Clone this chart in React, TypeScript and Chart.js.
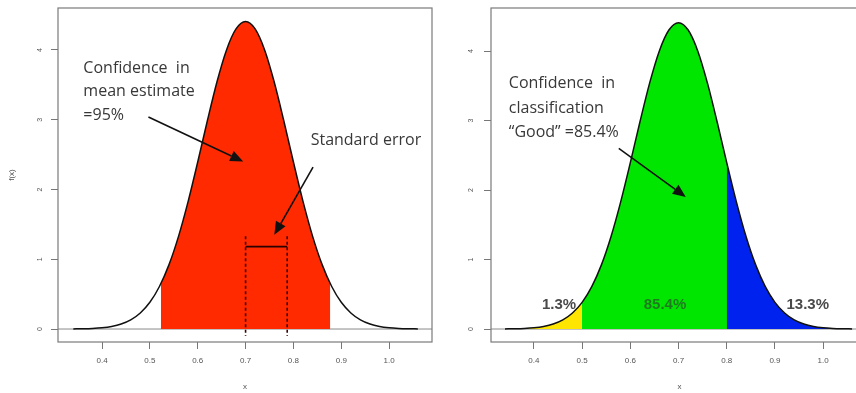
import { useEffect, useRef } from "react";
import { Chart, registerables } from "chart.js";

Chart.register(...registerables);

// ---- data ----
const xValues = [
  0.34, 0.36, 0.38, 0.4, 0.42, 0.44, 0.46, 0.48, 0.5, 0.52, 0.54, 0.56, 0.58,
  0.6, 0.62, 0.64, 0.66, 0.68, 0.7, 0.72, 0.74, 0.76, 0.78, 0.8, 0.82, 0.84,
  0.86, 0.88, 0.9, 0.92, 0.94, 0.96, 0.98, 1.0, 1.02, 1.04, 1.06,
];
const density = [
  0.0016, 0.0038, 0.0085, 0.0181, 0.0368, 0.0711, 0.131, 0.23, 0.383, 0.61,
  0.923, 1.332, 1.83, 2.394, 2.982, 3.538, 3.998, 4.302, 4.408, 4.302, 3.998,
  3.538, 2.982, 2.394, 1.83, 1.332, 0.923, 0.61, 0.383, 0.23, 0.131, 0.0711,
  0.0368, 0.0181, 0.0085, 0.0038, 0.0016,
];
const xTicks = [0.4, 0.5, 0.6, 0.7, 0.8, 0.9, 1.0];
const yTicks = [0, 1, 2, 3, 4];

// left panel: 95% interval and standard error
const ciLow = 0.523;
const ciHigh = 0.877;
const ciEdgeDensity = 0.65;
const seMean = 0.7;
const seUpper = 0.787;
const seBarLevel = 1.18;
const seDashTop = 1.33;

// right panel: classification cut-offs and shares
const cutLow = 0.5;
const cutHigh = 0.8;
const shareLabels = ["1.3%", "85.4%", "13.3%"];

const pts = (lo: number, hi: number) =>
  xValues
    .map((x, i) => ({ x, y: density[i] }))
    .filter((p) => p.x >= lo - 1e-9 && p.x <= hi + 1e-9);

type Txt = { t: string; x: number; y: number; font: string; color: string; align?: CanvasTextAlign };
type Arrow = { x1: number; y1: number; x2: number; y2: number };

function makeDeco(opts: {
  texts: Txt[];
  arrows: Arrow[];
  yLabelX: number;
  extra?: (chart: any) => void;
}) {
  return {
    id: "deco",
    beforeDatasetsDraw(chart: any) {
      const { ctx, chartArea, scales } = chart;
      const y0 = scales.y.getPixelForValue(0);
      ctx.save();
      ctx.strokeStyle = "#8a8a8a";
      ctx.lineWidth = 1;
      ctx.beginPath();
      ctx.moveTo(chartArea.left, y0);
      ctx.lineTo(chartArea.right, y0);
      ctx.stroke();
      ctx.restore();
    },
    afterDraw(chart: any) {
      const { ctx, chartArea, scales } = chart;
      const xs = scales.x;
      const ys = scales.y;
      ctx.save();
      // box
      ctx.strokeStyle = "#7a7a7a";
      ctx.lineWidth = 1.2;
      ctx.strokeRect(
        chartArea.left,
        chartArea.top,
        chartArea.right - chartArea.left,
        chartArea.bottom - chartArea.top
      );
      // y tick labels (rotated like R)
      ctx.fillStyle = "#555";
      ctx.font = "7px 'Liberation Sans'";
      ctx.textAlign = "center";
      ctx.textBaseline = "middle";
      for (const v of yTicks) {
        ctx.save();
        ctx.translate(ys.left + opts.yLabelX, ys.getPixelForValue(v));
        ctx.rotate(-Math.PI / 2);
        ctx.fillText(String(v), 0, 0);
        ctx.restore();
      }
      if (opts.extra) opts.extra(chart);
      // arrows
      for (const a of opts.arrows) {
        const x1 = xs.getPixelForValue(a.x1);
        const y1 = ys.getPixelForValue(a.y1);
        const x2 = xs.getPixelForValue(a.x2);
        const y2 = ys.getPixelForValue(a.y2);
        const ang = Math.atan2(y2 - y1, x2 - x1);
        const hl = 13;
        const hw = 5.5;
        const bx = x2 - hl * Math.cos(ang);
        const by = y2 - hl * Math.sin(ang);
        ctx.strokeStyle = "#111";
        ctx.lineWidth = 1.6;
        ctx.beginPath();
        ctx.moveTo(x1, y1);
        ctx.lineTo(bx, by);
        ctx.stroke();
        ctx.fillStyle = "#111";
        ctx.beginPath();
        ctx.moveTo(x2, y2);
        ctx.lineTo(bx + hw * Math.sin(ang), by - hw * Math.cos(ang));
        ctx.lineTo(bx - hw * Math.sin(ang), by + hw * Math.cos(ang));
        ctx.closePath();
        ctx.fill();
      }
      // texts
      ctx.textBaseline = "middle";
      for (const t of opts.texts) {
        ctx.font = t.font;
        ctx.fillStyle = t.color;
        ctx.textAlign = t.align || "left";
        ctx.fillText(t.t, xs.getPixelForValue(t.x), ys.getPixelForValue(t.y));
      }
      ctx.restore();
    },
  };
}

const annFont = "16px 'Open Sans'";
const annColor = "#383838";
const shareFont = "bold 15px 'Liberation Sans'";

function baseOptions(xMin: number, xMax: number, yMin: number, yMax: number, yWidth: number, showYTitle: boolean, padRight: number) {
  return {
    responsive: false,
    animation: false as const,
    layout: { padding: { left: 0, right: padRight, top: 8, bottom: 0 } },
    plugins: { legend: { display: false }, tooltip: { enabled: false } },
    elements: { point: { radius: 0 } },
    scales: {
      x: {
        type: "linear" as const,
        min: xMin,
        max: xMax,
        afterBuildTicks: (s: any) => {
          s.ticks = xTicks.map((v) => ({ value: v }));
        },
        afterFit: (s: any) => {
          s.height = 51;
        },
        grid: { drawOnChartArea: false, drawTicks: true, tickLength: 7, color: "#777" },
        border: { display: false },
        ticks: {
          padding: 7,
          maxRotation: 0,
          color: "#555",
          font: { size: 8, family: "'Liberation Sans'" },
          callback: (v: any) => Number(v).toFixed(1),
        },
        title: {
          display: true,
          text: "x",
          color: "#555",
          font: { size: 8, family: "'Liberation Sans'" },
          padding: { top: 0, bottom: 1 },
        },
      },
      y: {
        type: "linear" as const,
        min: yMin,
        max: yMax,
        afterBuildTicks: (s: any) => {
          s.ticks = yTicks.map((v) => ({ value: v }));
        },
        afterFit: (s: any) => {
          s.width = yWidth;
        },
        grid: { drawOnChartArea: false, drawTicks: true, tickLength: 7, color: "#777" },
        border: { display: false },
        ticks: { display: false },
        title: {
          display: showYTitle,
          text: "f(x)",
          color: "#555",
          font: { size: 8, family: "'Liberation Sans'" },
          padding: { top: 7, bottom: 0 },
        },
      },
    },
  };
}

function LeftChart() {
  const ref = useRef<HTMLCanvasElement>(null);
  useEffect(() => {
    const seExtra = (chart: any) => {
      const { ctx, scales } = chart;
      const xs = scales.x;
      const ys = scales.y;
      ctx.save();
      ctx.strokeStyle = "#3a0000";
      ctx.lineWidth = 1.6;
      ctx.setLineDash([3, 2.5]);
      for (const xv of [seMean, seUpper]) {
        ctx.beginPath();
        ctx.moveTo(xs.getPixelForValue(xv), ys.getPixelForValue(seDashTop));
        ctx.lineTo(xs.getPixelForValue(xv), ys.getPixelForValue(-0.1));
        ctx.stroke();
      }
      ctx.setLineDash([]);
      ctx.strokeStyle = "#2a0000";
      ctx.lineWidth = 1.8;
      ctx.beginPath();
      ctx.moveTo(xs.getPixelForValue(seMean), ys.getPixelForValue(seBarLevel));
      ctx.lineTo(xs.getPixelForValue(seUpper), ys.getPixelForValue(seBarLevel));
      ctx.stroke();
      ctx.restore();
    };
    const redPts = [
      { x: ciLow, y: ciEdgeDensity },
      ...pts(ciLow, ciHigh),
      { x: ciHigh, y: ciEdgeDensity },
    ];
    const chart = new Chart(ref.current!, {
      type: "line",
      data: {
        datasets: [
          {
            data: xValues.map((x, i) => ({ x, y: density[i] })),
            borderColor: "#111",
            borderWidth: 1.5,
            fill: false,
            cubicInterpolationMode: "monotone",
            order: 0,
          },
          {
            data: redPts,
            borderWidth: 0,
            borderColor: "rgba(0,0,0,0)",
            backgroundColor: "#ff2a00",
            fill: "origin",
            cubicInterpolationMode: "monotone",
            order: 1,
          },
        ],
      } as any,
      options: baseOptions(0.308, 1.0896, -0.186, 4.602, 58, true, 8) as any,
      plugins: [
        makeDeco({
          yLabelX: 40,
          extra: seExtra,
          texts: [
            { t: "Confidence  in", x: 0.361, y: 3.74, font: annFont, color: annColor },
            { t: "mean estimate", x: 0.361, y: 3.4, font: annFont, color: annColor },
            { t: "=95%", x: 0.361, y: 3.06, font: annFont, color: annColor },
            { t: "Standard error", x: 0.836, y: 2.71, font: annFont, color: annColor },
          ],
          arrows: [
            { x1: 0.497, y1: 3.04, x2: 0.695, y2: 2.4 },
            { x1: 0.841, y1: 2.32, x2: 0.76, y2: 1.35 },
          ],
        }),
      ],
    });
    return () => chart.destroy();
  }, []);
  return <canvas ref={ref} width={440} height={393} style={{ display: "block" }} />;
}

function RightChart() {
  const ref = useRef<HTMLCanvasElement>(null);
  useEffect(() => {
    const chart = new Chart(ref.current!, {
      type: "line",
      data: {
        datasets: [
          {
            data: xValues.map((x, i) => ({ x, y: density[i] })),
            borderColor: "#111",
            borderWidth: 1.5,
            fill: false,
            cubicInterpolationMode: "monotone",
            order: 0,
          },
          {
            data: pts(0, cutLow),
            borderWidth: 0,
            borderColor: "rgba(0,0,0,0)",
            backgroundColor: "#ffe600",
            fill: "origin",
            cubicInterpolationMode: "monotone",
            order: 1,
          },
          {
            // green band lies under the yellow and blue tails
            data: pts(0, 2),
            borderWidth: 0,
            borderColor: "rgba(0,0,0,0)",
            backgroundColor: "#00e600",
            fill: "origin",
            cubicInterpolationMode: "monotone",
            order: 2,
          },
          {
            data: pts(cutHigh, 2),
            borderWidth: 0,
            borderColor: "rgba(0,0,0,0)",
            backgroundColor: "#0022ee",
            fill: "origin",
            cubicInterpolationMode: "monotone",
            order: 1,
          },
        ],
      } as any,
      options: baseOptions(0.311, 1.093, -0.187, 4.619, 63, false, 0) as any,
      plugins: [
        makeDeco({
          yLabelX: 43,
          texts: [
            { t: "Confidence  in", x: 0.348, y: 3.53, font: annFont, color: annColor },
            { t: "classification", x: 0.348, y: 3.17, font: annFont, color: annColor },
            { t: "\u201cGood\u201d =85.4%", x: 0.348, y: 2.83, font: annFont, color: annColor },
            { t: shareLabels[0], x: 0.452, y: 0.345, font: shareFont, color: "#4a4a4a", align: "center" },
            { t: shareLabels[1], x: 0.672, y: 0.345, font: shareFont, color: "#1f7a1f", align: "center" },
            { t: shareLabels[2], x: 0.968, y: 0.345, font: shareFont, color: "#4a4a4a", align: "center" },
          ],
          arrows: [{ x1: 0.576, y1: 2.6, x2: 0.715, y2: 1.9 }],
        }),
      ],
    });
    return () => chart.destroy();
  }, []);
  return <canvas ref={ref} width={440} height={393} style={{ display: "block" }} />;
}

export default function App() {
  return (
    <div
      style={{
        position: "fixed",
        left: 0,
        top: 0,
        width: 856,
        height: 393,
        overflow: "hidden",
        background: "#fff",
      }}
    >
      <div style={{ position: "absolute", left: 0, top: 0 }}>
        <LeftChart />
      </div>
      <div style={{ position: "absolute", left: 428, top: 0 }}>
        <RightChart />
      </div>
    </div>
  );
}
